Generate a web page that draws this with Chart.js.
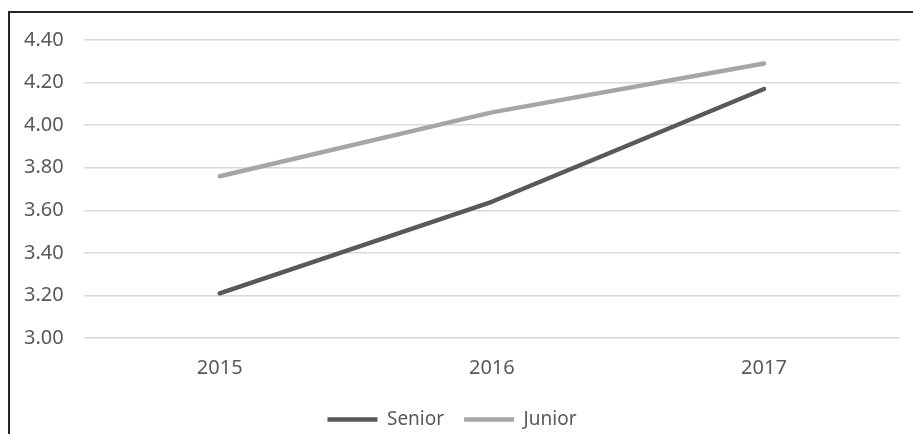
<!DOCTYPE html>
<html>
<head>
<meta charset="utf-8">
<title>Senior vs Junior</title>
<script src="https://cdn.jsdelivr.net/npm/chart.js@4/dist/chart.umd.min.js"></script>
<style>
    html, body { margin: 0; padding: 0; background: #fff; overflow: hidden; }
    .wrap { position: relative; width: 913px; height: 434px; }
    .frame {
        position: absolute; left: 8px; top: 11px; width: 1000px; height: 1000px;
        border-top: 2px solid #262626; border-left: 2px solid #262626;
    }
    canvas { position: absolute; left: 0; top: 0; }
</style>
</head>
<body>
<div class="wrap">
    <div class="frame"></div>
    <canvas id="lineChart"></canvas>
</div>
<script>
const years = ['2015', '2016', '2017'];
const seniorValues = [3.21, 3.64, 4.17];
const juniorValues = [3.76, 4.06, 4.29];
const yTicks = [3.00, 3.20, 3.40, 3.60, 3.80, 4.00, 4.20, 4.40];

document.addEventListener('DOMContentLoaded', () => {

    /* =========================================
       Fuente y colores (estilo Excel gris)
       ========================================= */
    const textColor = '#595959';
    const axisFont = { family: '"Noto Sans", sans-serif', size: 20 };
    const legendFont = { family: '"Noto Sans", sans-serif', size: 19 };

    const ctx = document.getElementById('lineChart');
    new Chart(ctx.getContext('2d'), {
        type: 'line',
        data: {
            labels: years,
            datasets: [
                {
                    label: 'Senior',
                    data: seniorValues,
                    borderColor: '#595959',
                    backgroundColor: '#595959',
                    borderWidth: 4.5,
                    borderCapStyle: 'round',
                    borderJoinStyle: 'round',
                    pointRadius: 0,
                    tension: 0
                },
                {
                    label: 'Junior',
                    data: juniorValues,
                    borderColor: '#a6a6a6',
                    backgroundColor: '#a6a6a6',
                    borderWidth: 4.5,
                    borderCapStyle: 'round',
                    borderJoinStyle: 'round',
                    pointRadius: 0,
                    tension: 0
                }
            ]
        },
        options: {
            responsive: true,
            maintainAspectRatio: false,
            animation: false,
            layout: { padding: { left: 4, right: 13, top: 40, bottom: -5 } },
            scales: {
                x: {
                    offset: true,
                    grid: { display: false },
                    border: { display: false },
                    ticks: { color: textColor, font: axisFont, padding: 10 }
                },
                y: {
                    min: yTicks[0],
                    max: yTicks[yTicks.length - 1],
                    afterBuildTicks: (axis) => {
                        axis.ticks = yTicks.map(v => ({ value: v }));
                    },
                    grid: { color: '#d9d9d9', lineWidth: 1.5, drawTicks: false },
                    border: { display: false },
                    ticks: {
                        color: textColor,
                        font: axisFont,
                        padding: 20,
                        callback: (v) => Number(v).toFixed(2)
                    }
                }
            },
            plugins: {
                legend: {
                    position: 'bottom',
                    labels: {
                        color: textColor,
                        font: legendFont,
                        usePointStyle: true,
                        pointStyle: 'line',
                        pointStyleWidth: 50,
                        padding: 20
                    }
                },
                tooltip: { enabled: false }
            }
        }
    });
});
</script>
</body>
</html>
